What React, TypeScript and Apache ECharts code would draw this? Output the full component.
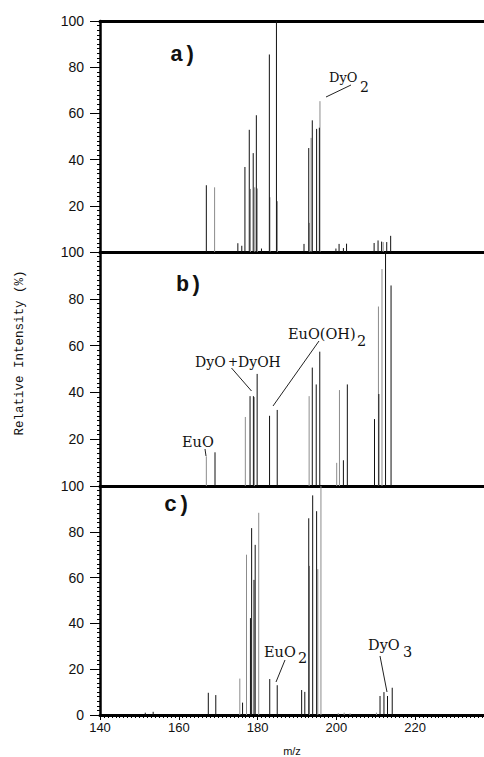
import React, { useEffect, useRef } from "react";
import * as echarts from "echarts";

// m/z axis ticks
const mzMin = 140;
const mzMax = 237.5;
const mzInterval = 20;

// Panel a) spectrum: [m/z, relative intensity]
const panelADark: [number, number][] = [
  [167.0, 28.9], [175.0, 3.8], [176.0, 2.7], [176.8, 36.8], [177.9, 52.9],
  [178.9, 42.8], [179.7, 59.2], [181.0, 1.5], [183.0, 85.5], [184.8, 100],
  [191.8, 3.5], [193.0, 45], [193.9, 57], [195.0, 53.3], [195.7, 53.8],
  [199.9, 1.5], [200.7, 3.5], [201.8, 1.7], [202.6, 3.6], [209.6, 3.9],
  [210.6, 5], [211.5, 4.5], [212.8, 4.3], [213.8, 7],
];
const panelALight: [number, number][] = [
  [169.1, 28], [178.2, 27.3], [179.3, 28], [179.95, 27.5], [183.15, 23.7],
  [185.05, 22], [193.15, 12.6], [193.6, 49.4], [195.85, 65.3], [211.9, 4.3],
];

// Panel b) spectrum
const panelBDark: [number, number][] = [
  [169.2, 14.4], [178.1, 38.4], [178.95, 38.4], [179.9, 47.9], [183.05, 30],
  [185.0, 32.5], [193.9, 50.6], [194.9, 43.4], [195.8, 57.4], [201.8, 11],
  [202.8, 43.4], [209.7, 28.6], [210.8, 39.3], [212.5, 100], [213.9, 85.7],
];
const panelBLight: [number, number][] = [
  [167.0, 12.7], [176.9, 29.5], [179.2, 38], [193.1, 38.4], [200.1, 9.9],
  [200.8, 41], [210.7, 76.7], [211.6, 92.7],
];

// Panel c) spectrum
const panelCDark: [number, number][] = [
  [151.5, 1], [153.5, 1.4], [167.5, 9.7], [169.4, 8.7], [176.2, 5.4],
  [178.2, 42.3], [178.5, 81.6], [179.1, 59], [179.4, 74.3], [183.1, 15.7],
  [185.0, 13], [191.2, 10.9], [192.0, 10.1], [193.0, 85.9], [194.0, 95.9],
  [195.0, 89], [211.1, 8.3], [212.1, 10], [213.0, 8.3], [214.2, 11.9],
];
const panelCLight: [number, number][] = [
  [175.5, 15.9], [177.2, 70], [180.3, 88.3], [193.2, 65.1], [195.3, 63.7],
  [196.1, 100], [200.5, 0.8], [202.0, 1], [203.5, 0.7], [210.2, 1],
];

const panelLabels = ["a)", "b)", "c)"];

const SERIF = '"DejaVu Serif", "Liberation Serif", serif';
const MONO = '"Liberation Mono", "DejaVu Sans Mono", monospace';
const SANS = '"Liberation Sans", Arial, sans-serif';

function spikeSeries(data: [number, number][], idx: number, color: string, width: number) {
  return {
    type: "custom",
    xAxisIndex: idx,
    yAxisIndex: idx,
    clip: false,
    silent: true,
    data,
    renderItem: (_params: any, api: any) => {
      const top = api.coord([api.value(0), api.value(1)]);
      const base = api.coord([api.value(0), 0]);
      return {
        type: "line",
        shape: { x1: top[0], y1: top[1], x2: base[0], y2: base[1] },
        style: { stroke: color, lineWidth: width },
      };
    },
  };
}

function txt(text: string, x: number, y: number, size: number, family: string = SERIF, weight: string = "normal") {
  return {
    type: "text",
    x,
    y,
    silent: true,
    style: {
      text,
      fontSize: size,
      fontFamily: family,
      fontWeight: weight,
      fill: "#111",
      align: "left",
      verticalAlign: "middle",
      textAlign: "left",
      textVerticalAlign: "middle",
    },
  };
}

function ln(x1: number, y1: number, x2: number, y2: number) {
  return {
    type: "line",
    silent: true,
    shape: { x1, y1, x2, y2 },
    style: { stroke: "#222", lineWidth: 1 },
  };
}

export default function App() {
  const ref = useRef<HTMLDivElement>(null);

  useEffect(() => {
    if (!ref.current) return;
    const chart = echarts.init(ref.current, null, { renderer: "svg" });

    const grids = [
      { left: 100, right: 0, top: 21, height: 231 },
      { left: 100, right: 0, top: 252, height: 234 },
      { left: 100, right: 0, top: 486, height: 234 },
    ];

    const xAxes: any[] = [0, 1, 2].map((i) => ({
      type: "value",
      gridIndex: i,
      min: mzMin,
      max: mzMax,
      interval: mzInterval,
      axisLine: { show: true, onZero: false, lineStyle: { color: "#000", width: 3 } },
      axisTick: { show: i === 2, length: 5, lineStyle: { color: "#000", width: 1 } },
      minorTick: { show: i === 2, splitNumber: 20, length: 3, lineStyle: { color: "#000", width: 1 } },
      axisLabel: {
        show: i === 2,
        showMaxLabel: false,
        fontSize: 13,
        fontFamily: SANS,
        color: "#111",
        margin: 6,
      },
      splitLine: { show: false },
      minorSplitLine: { show: false },
      name: i === 2 ? "m/z" : "",
      nameLocation: "middle",
      nameGap: 30,
      nameTextStyle: { fontSize: 11, fontFamily: SANS, color: "#111" },
    }));
    xAxes.push({
      type: "value",
      gridIndex: 0,
      position: "top",
      min: mzMin,
      max: mzMax,
      interval: mzInterval,
      axisLine: { show: true, onZero: false, lineStyle: { color: "#000", width: 3 } },
      axisTick: { show: false },
      axisLabel: { show: false },
      splitLine: { show: false },
    });

    const yAxes = [0, 1, 2].map((i) => ({
      type: "value",
      gridIndex: i,
      min: 0,
      max: 100,
      interval: 20,
      axisLine: { show: true, onZero: false, lineStyle: { color: "#000", width: 2.5 } },
      axisTick: { show: true, length: 10, lineStyle: { color: "#000", width: 1 } },
      minorTick: { show: true, splitNumber: 10, length: 3, lineStyle: { color: "#000", width: 1 } },
      axisLabel: {
        showMinLabel: i === 2,
        fontSize: 14,
        fontFamily: SANS,
        color: "#111",
        margin: 16,
      },
      splitLine: { show: false },
      minorSplitLine: { show: false },
    }));

    const light = "#8c8c8c";
    const dark = "#111";
    const series = [
      spikeSeries(panelALight, 0, light, 1),
      spikeSeries(panelADark, 0, dark, 1),
      spikeSeries(panelBLight, 1, light, 1),
      spikeSeries(panelBDark, 1, dark, 1),
      spikeSeries(panelCLight, 2, light, 1),
      spikeSeries(panelCDark, 2, dark, 1),
    ];

    const graphic: any[] = [
      // panel letters
      txt(panelLabels[0], 170, 55, 22, MONO, "bold"),
      txt(panelLabels[1], 176, 285, 22, MONO, "bold"),
      txt(panelLabels[2], 164, 505, 22, MONO, "bold"),
      // a) DyO2
      txt("DyO", 329, 77, 13),
      txt("2", 360, 87, 14),
      ln(351, 85, 326, 97),
      // b) EuO
      txt("EuO", 182, 442, 14.5),
      ln(205, 449, 206, 456),
      // b) DyO + DyOH
      txt("DyO", 195, 362, 14),
      txt("+", 228, 362, 12),
      txt("DyOH", 238, 362, 14),
      ln(231.5, 368, 251.5, 391),
      // b) EuO(OH)2
      txt("EuO(OH)", 288, 334, 14.5),
      txt("2", 357, 341, 14.5),
      ln(319, 341, 273, 406),
      // c) EuO2
      txt("EuO", 264, 652, 14.5),
      txt("2", 298, 658, 14.5),
      ln(285, 660, 276, 682),
      // c) DyO3
      txt("DyO", 368, 645, 14.5),
      txt("3", 403, 652, 14.5),
      ln(380, 656, 387, 692),
      // y axis title
      {
        type: "text",
        x: 20,
        y: 353,
        rotation: Math.PI / 2,
        silent: true,
        style: {
          text: "Relative Intensity (%)",
          fontSize: 12.5,
          fontFamily: MONO,
          fill: "#111",
          align: "center",
          verticalAlign: "middle",
          textAlign: "center",
          textVerticalAlign: "middle",
        },
      },
    ];

    chart.setOption({
      animation: false,
      backgroundColor: "#fff",
      grid: grids,
      xAxis: xAxes,
      yAxis: yAxes,
      series,
      graphic,
    });

    return () => chart.dispose();
  }, []);

  return (
    <div
      ref={ref}
      style={{ position: "absolute", left: 0, top: 0, width: 484, height: 757 }}
    />
  );
}
